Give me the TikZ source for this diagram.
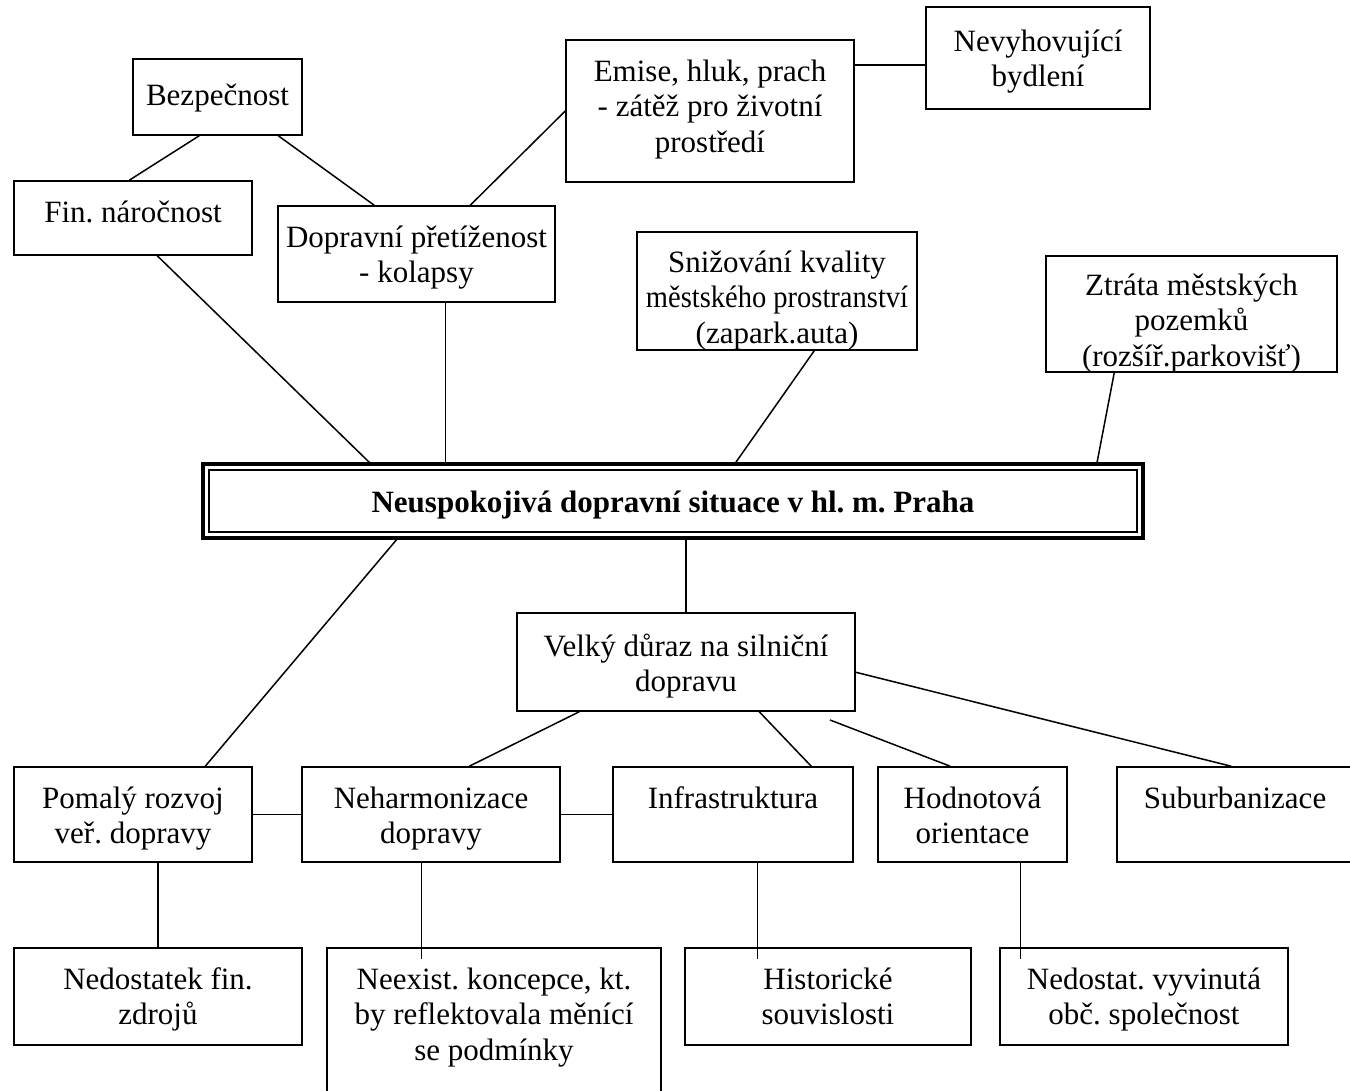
\documentclass[tikz,border=0pt]{standalone}
\usepackage{fontspec}
\setmainfont{Liberation Serif}
\usetikzlibrary{fit,calc}
\frenchspacing
\tikzset{
  boxst/.style={draw, line width=1.5pt, inner sep=0pt, fit={#1}},
  txt/.style={inner sep=0pt, align=center, font=\fontsize{31}{35.5}\selectfont\frenchspacing, anchor=north},
  conn/.style={line width=1.5pt},
}
\newcommand\mybox[7][17]{%
  \node[boxst={(#3,#4) (#5,#6)}] (#2) {};
  \node[txt] (#2-t) at ([yshift=-#1pt]#2.north) {\strut #7};
}
\begin{document}
\begin{tikzpicture}[x=1pt,y=-1pt]
\useasboundingbox (0,0) rectangle (1350,1091);
\clip (0,0) rectangle (1350,1091);
\fill[white] (0,0) rectangle (1350,1091);

% top part
\mybox[22]{bez}{133}{59}{302}{135}{Bezpečnost}
\mybox{fin}{14}{181}{252}{255}{Fin. náročnost}
\mybox{dop}{278}{206}{555}{302}{Dopravní přetíženost\\- kolapsy}
\mybox{emi}{566}{40}{854}{182}{Emise, hluk, prach\\- zátěž pro životní\\prostředí}
\mybox[20]{nev}{926}{7}{1150}{109}{Nevyhovující\\bydlení}
\mybox[16]{sni}{637}{232}{917}{350}{Snižování kvality\\\scalebox{0.92}[1]{městského prostranství}\\(zapark.auta)}
\mybox[15]{ztr}{1046}{256}{1337}{372}{Ztráta městských\\pozemků\\(rozšíř.parkovišť)}

% main box
\node[inner sep=0pt, fit={(203,464) (1143,538)}] (main) {};
\draw[line width=3.5pt] (main.north west) rectangle (main.south east);
\draw[line width=1.8pt] ([xshift=6pt,yshift=-6pt]main.north west) rectangle ([xshift=-6pt,yshift=6pt]main.south east);
\node[inner sep=0pt, font=\fontsize{31}{35.5}\selectfont\bfseries\frenchspacing, anchor=base] (main-t) at ([yshift=-11pt]main.center) {Neuspokojivá dopravní situace v hl. m. Praha};

% lower part
\mybox[19]{vel}{517}{613}{855}{711}{Velký důraz na silniční\\dopravu}
\mybox{pom}{14}{767}{252}{862}{Pomalý rozvoj\\veř. dopravy}
\mybox{neh}{302}{767}{560}{862}{Neharmonizace\\dopravy}
\mybox{inf}{613}{767}{853}{862}{Infrastruktura}
\mybox{hod}{878}{767}{1067}{862}{Hodnotová\\orientace}
\mybox{sub}{1117}{767}{1353}{862}{Suburbanizace}
\mybox{ned}{14}{948}{302}{1045}{Nedostatek fin.\\zdrojů}
\mybox{nee}{327}{948}{661}{1100}{Neexist. koncepce, kt.\\by reflektovala měnící\\se podmínky}
\mybox{his}{685}{948}{971}{1045}{Historické\\souvislosti}
\mybox{nob}{1000}{948}{1288}{1045}{Nedostat. vyvinutá\\obč. společnost}

% connectors top
\draw[conn] ($(bez.south west)+(67,0)$) -- ($(fin.north west)+(116,0)$);
\draw[conn] ($(bez.south west)+(146,0)$) -- ($(dop.north west)+(97,0)$);
\draw[conn] (emi.west) -- ($(dop.north west)+(193,0)$);
\coordinate (e1) at ($(emi.north east)+(0,26)$);
\draw[conn] (e1) -- (e1 -| nev.west);
\draw[conn] ($(fin.south west)+(144,0)$) -- ($(main.north west)+(168,0)$);
\coordinate (d1) at ($(dop.south west)+(168,0)$);
\draw[conn] (d1) -- (d1 |- main.north);
\draw[conn] ($(sni.south west)+(178,0)$) -- ($(main.north west)+(532,0)$);
\draw[conn] ($(ztr.south west)+(69,0)$) -- ($(main.north west)+(894,0)$);

% connectors bottom
\draw[conn] ($(main.south west)+(195,0)$) -- ($(pom.north west)+(192,0)$);
\draw[conn] (vel.north |- main.south) -- (vel.north);
\draw[conn] ($(vel.south west)+(63,0)$) -- ($(neh.north west)+(168,0)$);
\draw[conn] ($(vel.south west)+(243,0)$) -- ($(inf.north west)+(199,0)$);
\coordinate (h0) at (830,720);
\draw[conn] (h0) -- ($(hod.north west)+(73,0)$);
\draw[conn] ($(vel.north east)+(0,60)$) -- ($(sub.north west)+(115,0)$);
\draw[conn] (pom.east) -- (neh.west);
\draw[conn] (neh.east) -- (inf.west);
\draw[conn] (ned.north |- pom.south) -- (ned.north);
\coordinate (n1) at ($(neh.south west)+(120,0)$);
\draw[conn] (n1) -- (n1 |- nee.north) -- ++(0,12);
\coordinate (i1) at ($(inf.south west)+(145,0)$);
\draw[conn] (i1) -- (i1 |- his.north) -- ++(0,12);
\coordinate (o1) at ($(hod.south west)+(143,0)$);
\draw[conn] (o1) -- (o1 |- nob.north) -- ++(0,12);
\end{tikzpicture}
\end{document}
